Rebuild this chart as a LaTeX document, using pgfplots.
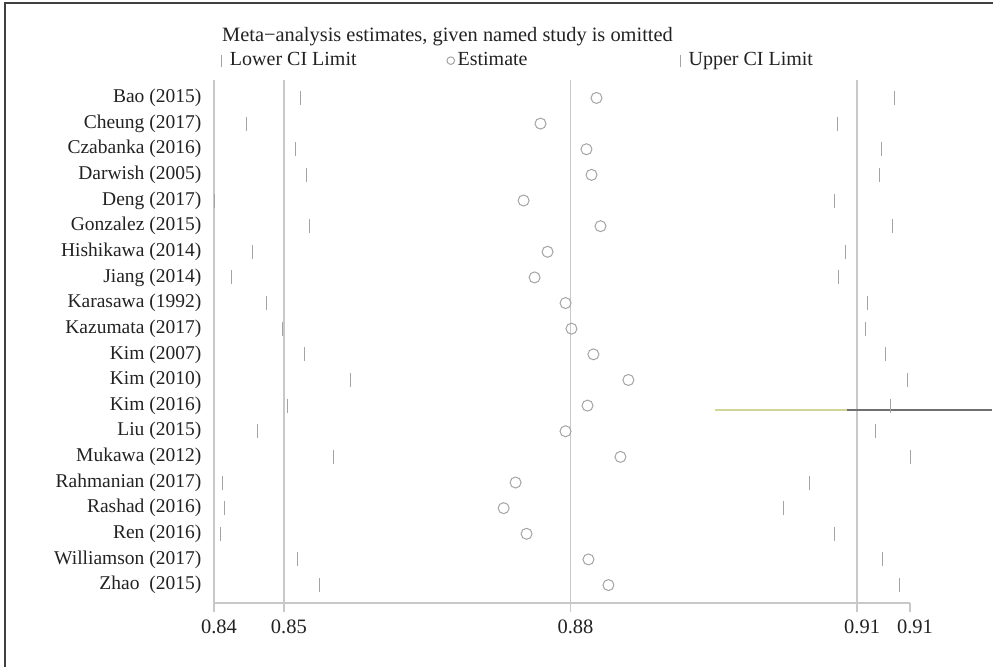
\documentclass[border=0pt]{standalone}
\usepackage{pgfplots}
\usepackage{pgfplotstable}
\pgfplotsset{compat=1.18}
\usepackage{fontspec}
\setmainfont{Liberation Serif}
\definecolor{txt}{HTML}{222222}
\definecolor{refl}{HTML}{C8C8C8}
\definecolor{mk}{HTML}{A4A4A4}
\definecolor{olive}{HTML}{D2D49A}
\definecolor{dgr}{HTML}{707070}
\pgfplotsset{
  cileg/.style={legend image code/.code={\draw[##1, mark size=6bp] plot coordinates {(0bp,0bp)};}},
  estleg/.style={legend image code/.code={\draw[##1, mark size=3.8bp] plot coordinates {(0bp,0bp)};}},
}
\pgfplotstableread{
row lo est hi
1 0.85178 0.88272 0.91387
2 0.84613 0.87686 0.90791
3 0.85125 0.88167 0.91251
4 0.85240 0.88220 0.91230
5 0.84268 0.87509 0.90760
6 0.85272 0.88314 0.91366
7 0.84666 0.87760 0.90875
8 0.84456 0.87624 0.90801
9 0.84822 0.87948 0.91105
10 0.84990 0.88010 0.91084
11 0.85220 0.88240 0.91293
12 0.85700 0.88606 0.91523
13 0.85042 0.88178 0.91345
14 0.84728 0.87948 0.91188
15 0.85523 0.88523 0.91554
16 0.84362 0.87425 0.90498
17 0.84383 0.87300 0.90227
18 0.84341 0.87540 0.90760
19 0.85146 0.88188 0.91261
20 0.85376 0.88397 0.91439
}\meta
\begin{document}
\fontsize{19.5bp}{23bp}\selectfont
\begin{tikzpicture}
\useasboundingbox (0,0) rectangle (993bp,-667bp);
\draw[black!75, line width=2bp] (993bp,-3bp) -- (5bp,-3bp) -- (5bp,-667bp);
\node[anchor=base west, inner sep=0pt, text=txt, font=\fontsize{20.4bp}{24bp}\selectfont] at (222bp,-41bp) {Meta−analysis estimates, given named study is omitted};
\begin{axis}[
  at={(214bp,-603bp)}, anchor=south west,
  scale only axis, width=696bp, height=523bp,
  xmin=0.84268, xmax=0.91554, ymin=0.3, ymax=20.7, y dir=reverse,
  axis x line=bottom, axis y line=left,
  x axis line style={-, draw=refl, line width=2.5bp},
  y axis line style={-, draw=refl, line width=1.8bp},
  xtick={0.84268,0.85,0.88,0.91,0.91554},
  xticklabels={0.84,0.85,0.88,0.91,0.91},
  ytick={1,...,20},
  yticklabels={Bao (2015),Cheung (2017),Czabanka (2016),Darwish (2005),Deng (2017),Gonzalez (2015),Hishikawa (2014),Jiang (2014),Karasawa (1992),Kazumata (2017),Kim (2007),Kim (2010),Kim (2016),Liu (2015),Mukawa (2012),Rahmanian (2017),Rashad (2016),Ren (2016),Williamson (2017),Zhao\ \ (2015)},
  tick align=outside, major tick length=9bp,
  x tick style={draw=refl, line width=1.2bp},
  y tick style={draw=none},
  xticklabel style={font=\fontsize{20.5bp}{24bp}\selectfont, text=txt, xshift=5bp, yshift=-1bp},
  yticklabel style={font=\fontsize{19.5bp}{23bp}\selectfont, text=txt, xshift=3bp},
  clip=false,
  legend columns=3,
  legend style={at={(axis description cs:0.0112,1.037)}, anchor=west, draw=none, fill=none,
    inner sep=0pt, font=\fontsize{20bp}{24bp}\selectfont, text=txt,
    nodes={inner sep=0pt}, column sep=0pt},
  legend cell align=left,
]
\addplot[refl, line width=1.6bp, forget plot] coordinates {(0.85,0.3) (0.85,20.7)};
\addplot[refl, line width=1.6bp, forget plot] coordinates {(0.88,0.3) (0.88,20.7)};
\addplot[refl, line width=1.6bp, forget plot] coordinates {(0.91,0.3) (0.91,20.7)};
\addplot[only marks, mark=|, mark size=7bp, mk, line width=1bp, cileg]
  table[x=lo, y=row] {\meta};
\addlegendentry{\makebox[225bp][l]{\hspace{8bp}Lower CI Limit}}
\addplot[only marks, mark=o, mark size=5.5bp, mk, line width=1bp, estleg]
  table[x=est, y=row] {\meta};
\addlegendentry{\makebox[226bp][l]{\hspace{3bp}Estimate}}
\addplot[only marks, mark=|, mark size=7bp, mk, line width=1bp, cileg]
  table[x=hi, y=row] {\meta};
\addlegendentry{\makebox[150bp][l]{\hspace{8bp}Upper CI Limit}}
\draw[olive, line width=2.5bp] (axis cs:0.89516,13.17) -- (axis cs:0.90895,13.17);
\draw[dgr, line width=2.5bp] (axis cs:0.90895,13.17) -- (axis cs:0.92411,13.17);
\end{axis}
\end{tikzpicture}
\end{document}
